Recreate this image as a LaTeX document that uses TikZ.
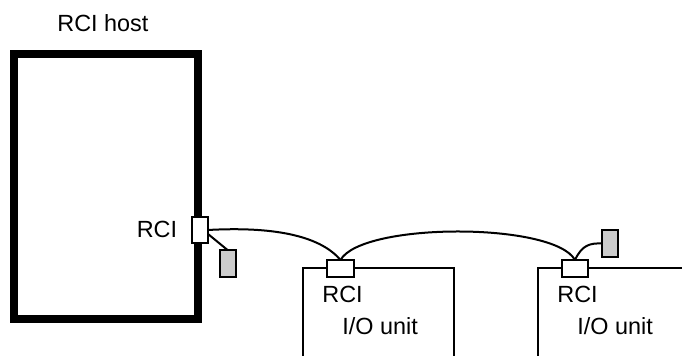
\documentclass[tikz,border=0pt]{standalone}
\usepackage{fontspec}
\setmainfont{Liberation Sans}
\definecolor{plugfill}{RGB}{204,204,204}

\tikzset{
  port/.style={draw,fill=white,line width=1pt,inner sep=0pt,outer sep=0pt},
  plug/.style={draw,fill=plugfill,line width=1pt,inner sep=0pt,outer sep=0pt,
               minimum width=8pt,minimum height=13.5pt},
  lbl/.style={inner sep=0pt,font=\fontsize{11.7}{14}\selectfont}
}

\begin{document}
\begin{tikzpicture}[x=0.5pt,y=-0.5pt,line cap=butt,line join=miter]
        \useasboundingbox (0,0) rectangle (682,356);

        % Host
        \draw[line width=4pt] (13.5,54) rectangle (198,319);
        \node[lbl,anchor=base west] (hostlbl) at (57,32) {RCI host};
        \node[port,minimum width=8pt,minimum height=13pt] (hport) at (200,230) {};
        \node[lbl,anchor=base east] (hportlbl) at (177.5,238) {RCI};
        \node[plug] (plugA) at (227.5,263.5) {};

        % I/O units (open at the bottom and right)
        \draw[line width=1pt] (303,356) -- (303,268) -- (454,268) -- (454,356);
        \draw[line width=1pt] (538,356) -- (538,268) -- (682,268);
        \node[port,minimum width=13.5pt,minimum height=8.5pt] (portA) at (340.5,268.5) {};
        \node[port,minimum width=13pt,minimum height=8.5pt] (portB) at (575,268.5) {};
        \node[lbl,anchor=base west] (rciA) at (322,303) {RCI};
        \node[lbl,anchor=base west] (ioA) at (342,335) {I/O unit};
        \node[lbl,anchor=base west] (rciB) at (557,303) {RCI};
        \node[lbl,anchor=base west] (ioB) at (577,335) {I/O unit};
        \node[plug] (plugB) at (610,243.5) {};

        % Cables
        \draw[line width=1pt] (hport.east) .. controls (280,226) and (322,238) .. (portA.north);
        \draw[line width=1pt] (portA.north) .. controls (362,222) and (554,222) .. (portB.north);
        \draw[line width=1pt] ([yshift=-2pt]hport.east) -- (plugA.north);
        \draw[line width=1pt] (portB.north) .. controls (582,245) and (590,243) .. (plugB.west);
    \end{tikzpicture}
\end{document}
